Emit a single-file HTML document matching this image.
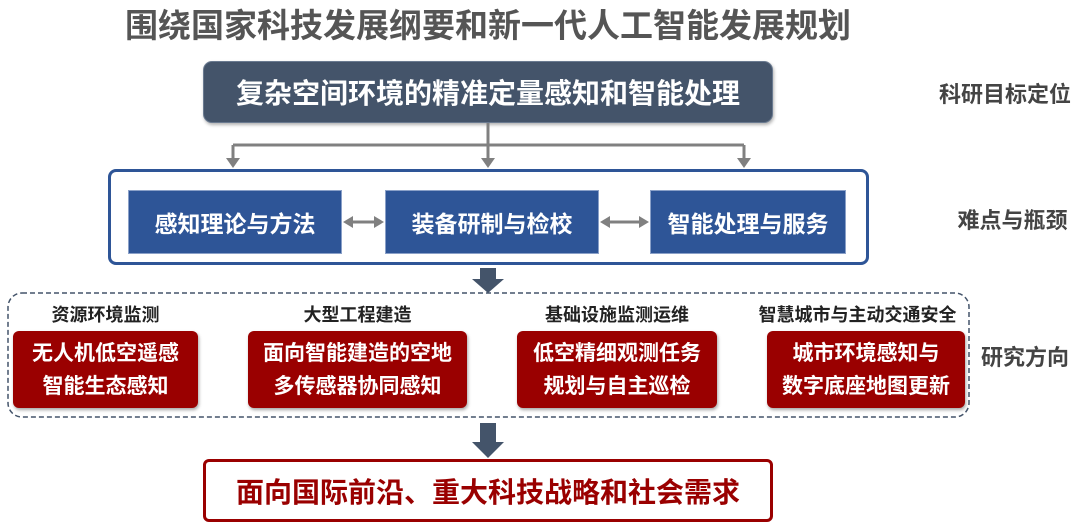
<!DOCTYPE html>
<html><head><meta charset="utf-8"><style>
body{margin:0;width:1080px;height:527px;background:#fff;position:relative;overflow:hidden;font-family:"Liberation Sans","Noto Sans CJK SC",sans-serif;font-weight:bold}
.a{position:absolute;box-sizing:border-box;display:flex;align-items:center;justify-content:center;text-align:center;white-space:nowrap}
.blue{background:#2e5597;color:#fff;font-size:23px;border:1px solid #8aa0c8}
.red{background:#9a0000;color:#fff;font-size:21px;line-height:33px;border-radius:6px;box-shadow:1px 2px 3px rgba(0,0,0,.35)}
.lab{font-size:18px;color:#222}
.side{font-size:22px;color:#444}
</style></head><body>
<div class="a" style="left:120px;width:736px;top:0px;height:46px;font-size:33px;color:#555">围绕国家科技发展纲要和新一代人工智能发展规划</div>
<div class="a" style="left:203px;top:61px;width:570px;height:62px;background:#44546a;border-radius:9px;color:#fff;font-size:28px;border:1px solid #6a7a90;box-shadow:1px 2px 3px rgba(0,0,0,.3)">复杂空间环境的精准定量感知和智能处理</div>
<svg class="a" style="left:0;top:0" width="1080" height="527">
<g stroke="#808080" stroke-width="3" fill="none"><path d="M488 123V160M233 145H744M233 145V160M744 145V160"/></g>
<g fill="#808080"><path d="M226 158h14l-7 10z"/><path d="M481 158h14l-7 10z"/><path d="M737 158h14l-7 10z"/>
<path d="M343 222l10-6v12z M384 222l-10-6v12z"/><rect x="350" y="220.5" width="27" height="3"/>
<path d="M600 222l10-6v12z M649 222l-10-6v12z"/><rect x="607" y="220.5" width="35" height="3"/></g>
<g fill="#44546a"><path d="M480 268h16v11h8l-16 14-16-14h8z"/><path d="M480 423h16v19h8l-16 16-16-16h8z"/></g>
<rect x="8" y="293" width="961" height="124" rx="14" fill="none" stroke="#44546a" stroke-width="1.5" stroke-dasharray="5,3"/>
</svg>
<div class="a" style="left:108px;top:169px;width:761px;height:96px;border:3px solid #2e5597;border-radius:8px"></div>
<div class="a blue" style="left:128px;top:190px;width:214px;height:64px">感知理论与方法</div>
<div class="a blue" style="left:385px;top:190px;width:214px;height:64px">装备研制与检校</div>
<div class="a blue" style="left:650px;top:190px;width:196px;height:64px">智能处理与服务</div>
<div class="a lab" style="left:13px;top:301px;width:185px;height:26px">资源环境监测</div>
<div class="a lab" style="left:248px;top:301px;width:219px;height:26px">大型工程建造</div>
<div class="a lab" style="left:517px;top:301px;width:200px;height:26px">基础设施监测运维</div>
<div class="a lab" style="left:750px;top:301px;width:215px;height:26px">智慧城市与主动交通安全</div>
<div class="a red" style="left:13px;top:331px;width:185px;height:77px">无人机低空遥感<br>智能生态感知</div>
<div class="a red" style="left:248px;top:331px;width:219px;height:77px">面向智能建造的空地<br>多传感器协同感知</div>
<div class="a red" style="left:517px;top:331px;width:200px;height:77px">低空精细观测任务<br>规划与自主巡检</div>
<div class="a red" style="left:767px;top:331px;width:198px;height:77px">城市环境感知与<br>数字底座地图更新</div>
<div class="a" style="left:203px;top:459px;width:570px;height:63px;border:3px solid #9a0000;border-radius:6px;color:#9a0000;font-size:28px">面向国际前沿、重大科技战略和社会需求</div>
<div class="a side" style="left:930px;top:77px;width:150px;height:32px">科研目标定位</div>
<div class="a side" style="left:945px;top:203px;width:135px;height:32px">难点与瓶颈</div>
<div class="a side" style="left:970px;top:340px;width:110px;height:32px">研究方向</div>
</body></html>
